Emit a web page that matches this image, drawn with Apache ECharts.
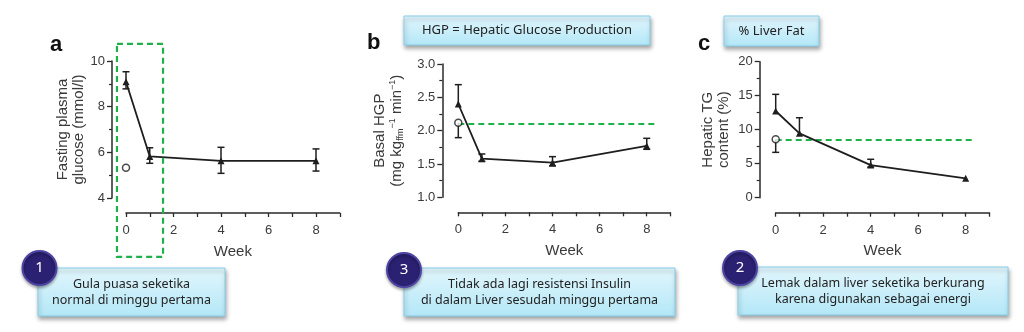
<!DOCTYPE html>
<html><head><meta charset="utf-8">
<script src="https://cdn.jsdelivr.net/npm/echarts@6/dist/echarts.min.js"></script>
<style>html,body{margin:0;padding:0;background:#fff}#c{width:1024px;height:332px}</style>
</head><body><div id="c"></div>
<script>
// ---- data ----
const weeks = [0, 1, 4, 8];
// panel a: fasting plasma glucose (mmol/l)
const glucose = [9.09, 5.82, 5.63, 5.63];
const glucoseLow = [8.78, 5.52, 5.08, 5.18];
const glucoseHigh = [9.53, 6.20, 6.22, 6.15];
const glucoseControl = [5.33];
const glucoseAxis = [4, 10, 2];
const glucoseBox = [-0.38, 1.42, 1.56, 10.75];
// panel b: basal HGP
const hgp = [2.40, 1.58, 1.52, 1.77];
const hgpLow = [2.40, 1.54, 1.47, 1.72];
const hgpHigh = [2.69, 1.65, 1.61, 1.885];
const hgpControl = [2.12];
const hgpControlLow = [1.895];
const hgpControlHigh = [2.12];
const hgpAxis = [1.0, 3.0, 0.5];
const hgpRef = [[0, 2.1], [8.48, 2.1]];
// panel c: hepatic TG content (%)
const tg = [12.75, 9.47, 4.8, 2.85];
const tgLow = [12.75, 9.47, 4.5, 2.85];
const tgHigh = [15.2, 11.76, 5.65, 2.85];
const tgControl = [8.58];
const tgControlLow = [6.67];
const tgControlHigh = [8.58];
const tgAxis = [0, 20, 5];
const tgRef = [[0, 8.5], [8.42, 8.5]];
const weekAxis = [0, 9, 1];
const weekLabels = ['0', '2', '4', '6', '8'];

// ---- helpers ----
const INK = '#1e1e1e';
const AX = '#2a2a2a';
const LBL = '#3a3a3a';
const GREEN = '#1fb14a';
const FONT = 'Arial, "Liberation Sans", sans-serif';

function pts(xs, ys) { return ys.map((y, i) => [xs[i], y]); }
function errRows(xs, v, lo, hi) { return v.map((y, i) => [xs[i], y, lo[i], hi[i]]); }

function errRender(params, api) {
  const x = api.value(0), v = api.value(1), lo = api.value(2), hi = api.value(3);
  const pLo = api.coord([x, lo]), pHi = api.coord([x, hi]);
  const st = { stroke: INK, lineWidth: 1.5, fill: null };
  const cw = 3.5;
  const ch = [];
  if (hi > lo) ch.push({ type: 'line', shape: { x1: pLo[0], y1: pLo[1], x2: pHi[0], y2: pHi[1] }, style: st });
  if (hi > v) ch.push({ type: 'line', shape: { x1: pHi[0] - cw, y1: pHi[1], x2: pHi[0] + cw, y2: pHi[1] }, style: st });
  if (lo < v) ch.push({ type: 'line', shape: { x1: pLo[0] - cw, y1: pLo[1], x2: pLo[0] + cw, y2: pLo[1] }, style: st });
  return { type: 'group', children: ch };
}

function boxRender(params, api) {
  const p0 = api.coord([api.value(0), api.value(1)]);
  const p1 = api.coord([api.value(2), api.value(3)]);
  return {
    type: 'rect',
    shape: { x: p0[0], y: p1[1], width: p1[0] - p0[0], height: p0[1] - p1[1] },
    style: { fill: null, stroke: GREEN, lineWidth: 2.2, lineDash: [6, 4] }
  };
}

function xAx(i) {
  return {
    gridIndex: i, type: 'value', min: weekAxis[0], max: weekAxis[1], interval: weekAxis[2], offset: 15,
    axisLine: { show: true, onZero: false, lineStyle: { color: AX, width: 1.5 } },
    axisTick: { show: true, length: 4, lineStyle: { color: AX, width: 1.3 } },
    axisLabel: { margin: 11, color: LBL, fontSize: 13, fontFamily: FONT, showMaxLabel: true,
      formatter: v => weekLabels.includes(String(v)) ? String(v) : '' },
    splitLine: { show: false },
    name: 'Week', nameLocation: 'middle', nameGap: 31,
    nameTextStyle: { fontSize: 15, color: LBL, fontFamily: FONT }
  };
}

function yAx(i, ax, offset, dec, name, gap, rich) {
  return {
    gridIndex: i, type: 'value', min: ax[0], max: ax[1], interval: ax[2], offset: offset,
    axisLine: { show: true, onZero: false, lineStyle: { color: AX, width: 1.5 } },
    axisTick: { show: true, length: 5, lineStyle: { color: AX, width: 1.3 } },
    minorTick: { show: true, splitNumber: 2, length: 3, lineStyle: { color: AX, width: 1.2 } },
    axisLabel: { margin: 7, color: LBL, fontSize: 13, fontFamily: FONT, formatter: v => v.toFixed(dec) },
    splitLine: { show: false }, minorSplitLine: { show: false },
    name: name, nameLocation: 'middle', nameGap: gap, nameRotate: 90,
    nameTextStyle: Object.assign({ fontSize: 15, color: LBL, fontFamily: FONT, lineHeight: 16, align: 'center' }, rich ? { rich: rich } : {})
  };
}

function lineSeries(i, data) {
  return { type: 'line', xAxisIndex: i, yAxisIndex: i, data: data, symbol: 'triangle', symbolSize: 7,
    itemStyle: { color: INK }, lineStyle: { color: INK, width: 1.8 }, z: 5, animation: false };
}
function ctrlSeries(i, data) {
  return { type: 'scatter', xAxisIndex: i, yAxisIndex: i, data: data, symbol: 'circle', symbolSize: 7,
    itemStyle: { color: '#fff', borderColor: INK, borderWidth: 1.5 }, z: 6, animation: false };
}
function errSeries(i, data) {
  return { type: 'custom', xAxisIndex: i, yAxisIndex: i, data: data, renderItem: errRender,
    encode: { x: 0, y: [1, 2, 3] }, z: 4, animation: false, silent: true };
}
function refSeries(i, data) {
  return { type: 'line', xAxisIndex: i, yAxisIndex: i, data: data, symbol: 'none',
    lineStyle: { color: GREEN, width: 2, type: [6, 4] }, z: 3, animation: false, silent: true };
}

const subSup = {
  sub: { fontSize: 9, fontFamily: FONT, color: LBL, verticalAlign: 'bottom', lineHeight: 17 },
  sup: { fontSize: 9, fontFamily: FONT, color: LBL, verticalAlign: 'top', lineHeight: 17 },
  n: { fontSize: 15, fontFamily: FONT, color: LBL, lineHeight: 17 }
};

const boxFill = { type: 'linear', x: 0, y: 0, x2: 0, y2: 1,
  colorStops: [{ offset: 0, color: '#e2f6fd' }, { offset: 1, color: '#b3e7f7' }] };
function noteBox(x, y, w, h, text, fs) {
  return [
    { type: 'rect', shape: { x: x, y: y, width: w, height: h }, z: 10,
      style: { fill: boxFill, stroke: '#86cfea', lineWidth: 1, shadowBlur: 4, shadowOffsetX: 1, shadowOffsetY: 3, shadowColor: 'rgba(0,0,0,0.35)' } },
    { type: 'text', x: x + w / 2, y: y + h / 2, z: 11,
      style: { text: text, fill: '#222', font: (fs || 12.5) + 'px "Noto Sans"', align: 'center', verticalAlign: 'middle', lineHeight: 16 } }
  ];
}
function badge(cx, cy, t) {
  return [
    { type: 'circle', shape: { cx: cx, cy: cy, r: 17 }, z: 12,
      style: { fill: '#2b2172', stroke: '#4d43a3', lineWidth: 2, shadowBlur: 3, shadowOffsetY: 2, shadowColor: 'rgba(0,0,0,0.3)' } },
    { type: 'text', x: cx, y: cy, z: 13,
      style: { text: t, fill: '#fff', font: '15px "Noto Sans"', align: 'center', verticalAlign: 'middle' } }
  ];
}
function letter(x, y, t) {
  return { type: 'text', x: x, y: y, z: 10, style: { text: t, fill: '#111', font: 'bold 22px Arial, "Liberation Sans"', align: 'left', verticalAlign: 'middle' } };
}

const option = {
  backgroundColor: '#fff',
  animation: false,
  grid: [
    { left: 126, top: 61, width: 213.75, height: 137, outerBoundsMode: 'none', containLabel: false },
    { left: 458.3, top: 64, width: 212, height: 133.3, outerBoundsMode: 'none', containLabel: false },
    { left: 775.7, top: 61.7, width: 213.75, height: 136, outerBoundsMode: 'none', containLabel: false }
  ],
  xAxis: [xAx(0), xAx(1), xAx(2)],
  yAxis: [
    yAx(0, glucoseAxis, 14, 0, 'Fasting plasma\nglucose (mmol/l)', 24),
    yAx(1, hgpAxis, 16, 1, '{n|Basal HGP}\n{n|(mg kg}{sub|ffm}{sup|−1}{n| min}{sup|−1}{n|)}', 37, subSup),
    yAx(2, tgAxis, 16, 0, 'Hepatic TG\ncontent (%)', 28)
  ],
  series: [
    errSeries(0, errRows(weeks, glucose, glucoseLow, glucoseHigh)),
    lineSeries(0, pts(weeks, glucose)),
    ctrlSeries(0, pts([0], glucoseControl)),
    { type: 'custom', xAxisIndex: 0, yAxisIndex: 0, data: [glucoseBox], renderItem: boxRender,
      encode: { x: [0, 2], y: [1, 3] }, clip: false, z: 7, animation: false, silent: true },

    refSeries(1, hgpRef),
    errSeries(1, errRows(weeks, hgp, hgpLow, hgpHigh)),
    errSeries(1, errRows([0], hgpControl, hgpControlLow, hgpControlHigh)),
    lineSeries(1, pts(weeks, hgp)),
    ctrlSeries(1, pts([0], hgpControl)),

    refSeries(2, tgRef),
    errSeries(2, errRows(weeks, tg, tgLow, tgHigh)),
    errSeries(2, errRows([0], tgControl, tgControlLow, tgControlHigh)),
    lineSeries(2, pts(weeks, tg)),
    ctrlSeries(2, pts([0], tgControl))
  ],
  graphic: [
    letter(50, 45, 'a'), letter(367, 43, 'b'), letter(698, 44, 'c'),
    ...noteBox(404, 16, 246, 29, 'HGP = Hepatic Glucose Production', 13),
    ...noteBox(724, 16, 95, 30, '% Liver Fat', 13),
    ...noteBox(38, 268, 187, 48, 'Gula puasa seketika\nnormal di minggu pertama'),
    ...noteBox(404, 268, 271, 48, 'Tidak ada lagi resistensi Insulin\ndi dalam Liver sesudah minggu pertama'),
    ...noteBox(738, 267, 270, 48, 'Lemak dalam liver seketika berkurang\nkarena digunakan sebagai energi'),
    ...badge(39.5, 268, '1'), ...badge(404, 270, '3'), ...badge(740, 268, '2')
  ]
};
const chart = echarts.init(document.getElementById('c'), null, { renderer: 'canvas' });
chart.setOption(option);
</script></body></html>
